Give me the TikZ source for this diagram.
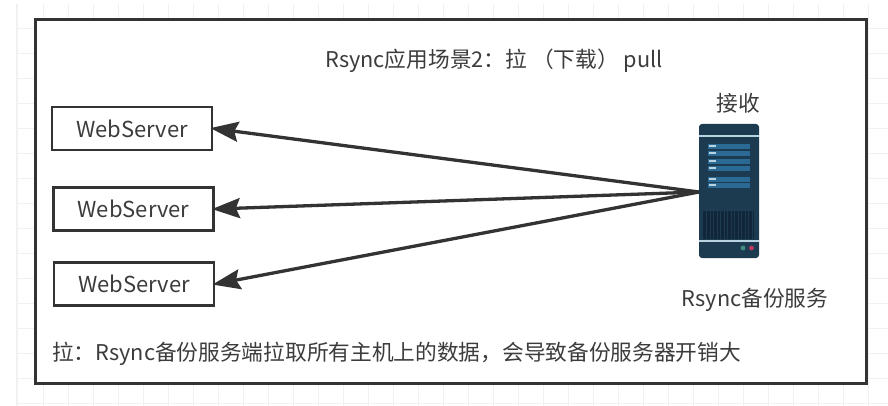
\documentclass[tikz,border=0pt]{standalone}
\usepackage{fontspec}
\setmainfont{Noto Sans CJK SC}
\usetikzlibrary{arrows.meta}
\definecolor{inkgray}{HTML}{333333}
\definecolor{textgray}{HTML}{3C3C3C}
\definecolor{gridgray}{HTML}{F1F1F1}
\definecolor{srvdark}{HTML}{1D3B50}
\definecolor{srvband}{HTML}{2A6A94}
\definecolor{srvline}{HTML}{B9D3E0}
\definecolor{srvvent}{HTML}{12263A}
\definecolor{ledgreen}{HTML}{3E8E7E}
\definecolor{ledred}{HTML}{C0395F}
\tikzset{
    webbox/.style={draw=inkgray, line width=2.8pt, fill=white, minimum width=160pt, minimum height=43pt, inner sep=0pt, text=textgray, font=\fontsize{22}{22}\selectfont},
    lbl/.style={text=textgray, inner sep=0pt, font=\fontsize{21.7}{22}\selectfont},
    pullarrow/.style={draw=inkgray, line width=3.3pt, shorten >=-3pt, -{Stealth[length=28pt,width=20pt,inset=4pt]}},
    band/.style={fill=srvband},
    tick/.style={fill=srvline}
}
\begin{document}
\begin{tikzpicture}[x=1pt,y=-1pt]
    \useasboundingbox (0,0) rectangle (888,406);
    \fill[white] (0,0) rectangle (888,406);

    % grid
    \foreach \gx in {43,68,...,868} \draw[gridgray, line width=0.8pt] (\gx,4) -- (\gx,406);
    \foreach \gy in {28,53,...,403} \draw[gridgray, line width=0.8pt] (17,\gy) -- (888,\gy);
    \draw[gridgray, line width=2pt] (17,4) -- (17,406);

    % outer frame
    \node[draw=inkgray, line width=3pt, fill=white, minimum width=831pt, minimum height=363pt, inner sep=0pt] (frame) at (450.5,201.5) {};

    % labels
    \node[lbl] (title) at (494,61) {Rsync应用场景2：拉 （下载） pull};
    \node[lbl] (recv) at (738,103) {接收};
    \node[lbl] (name) at (755,300) {Rsync备份服务};
    \node[lbl, anchor=west] (note) at (52,354) {拉：Rsync备份服务端拉取所有主机上的数据，会导致备份服务器开销大};

    % web servers
    \node[webbox] (web1) at (132,128.5) {WebServer};
    \node[webbox] (web2) at (133.5,209) {WebServer};
    \node[webbox] (web3) at (134,284) {WebServer};

    % backup server
    \fill[srvdark, rounded corners=3pt] (699,124) rectangle (759,258);
    \coordinate (srv) at (699,192);
    \fill[srvline] (699,135) rectangle (759,137);
    \fill[srvline] (699,240) rectangle (759,242);
    \foreach \by in {144,151,159,166,177,183} {
        \fill[band] (708,\by) rectangle (750,\by+5);
        \fill[tick] (709,\by+1.5) rectangle (716,\by+3);
    }
    \fill[srvvent] (703,211) rectangle (754,239);
    \foreach \vx in {706,709.5,...,752} \fill[srvdark] (\vx,211) rectangle (\vx+1,239);
    \fill[ledgreen] (743,248) circle (2.4pt);
    \fill[ledred] (751.5,248) circle (2.4pt);

    % arrows
    \draw[pullarrow] (srv) -- (web1.east);
    \draw[pullarrow] (srv) -- (web2.east);
    \draw[pullarrow] (srv) -- (web3.east);
\end{tikzpicture}
\end{document}
